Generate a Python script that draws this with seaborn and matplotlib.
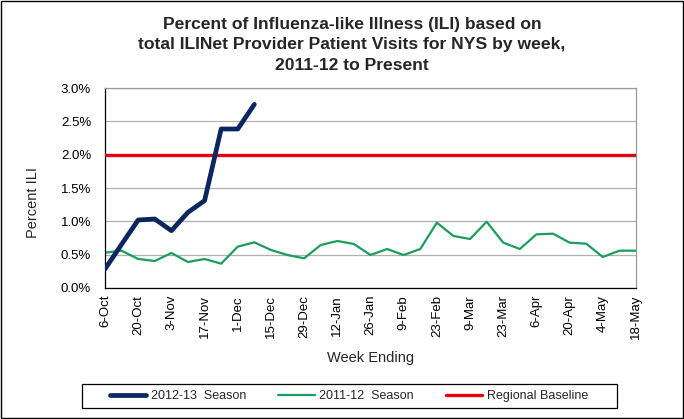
import pandas as pd
import seaborn as sns
import matplotlib.pyplot as plt
from matplotlib.patches import Rectangle
from matplotlib.ticker import FuncFormatter

week_labels = ['6-Oct', '13-Oct', '20-Oct', '27-Oct', '3-Nov', '10-Nov', '17-Nov', '24-Nov',
               '1-Dec', '8-Dec', '15-Dec', '22-Dec', '29-Dec', '5-Jan', '12-Jan', '19-Jan',
               '26-Jan', '2-Feb', '9-Feb', '16-Feb', '23-Feb', '2-Mar', '9-Mar', '16-Mar',
               '23-Mar', '30-Mar', '6-Apr', '13-Apr', '20-Apr', '27-Apr', '4-May', '11-May',
               '18-May']
season_2012 = [0.285, 0.655, 1.02, 1.035, 0.86, 1.135, 1.31, 2.385, 2.385, 2.755]
season_2011 = [0.53, 0.56, 0.435, 0.405, 0.525, 0.39, 0.435, 0.365, 0.62, 0.685,
               0.57, 0.495, 0.445, 0.645, 0.705, 0.66, 0.495, 0.585, 0.495, 0.585,
               0.98, 0.78, 0.735, 0.995, 0.68, 0.585, 0.805, 0.815, 0.68, 0.665,
               0.465, 0.56, 0.56]
baseline = [2.0] * len(week_labels)

weeks = list(range(len(week_labels)))

sns.set_style('white')
plt.rcParams['font.family'] = ['Liberation Sans', 'DejaVu Sans']

W, H = 684, 419
fig = plt.figure(figsize=(W / 100, H / 100), dpi=100)
ax = fig.add_axes([105 / W, 1 - 288 / H, 531 / W, 200 / H])

sns.lineplot(x=weeks, y=season_2011, color='#1a9e5c', linewidth=1.6, ax=ax,
             label='2011-12  Season', zorder=2)
sns.lineplot(x=weeks, y=baseline, color='#e3000f', linewidth=2.4, ax=ax,
             label='Regional Baseline', zorder=3)
sns.lineplot(x=weeks[:len(season_2012)], y=season_2012, color='#0c2660', linewidth=3.4,
             ax=ax, label='2012-13  Season', zorder=4)

ax.set_xlim(0, 32)
ax.set_ylim(0, 3.0)
ax.set_yticks([0, 0.5, 1.0, 1.5, 2.0, 2.5, 3.0])
ax.yaxis.set_major_formatter(FuncFormatter(lambda v, p: f'{v:.1f}%'))
ax.set_xticks(weeks[::2])
ax.set_xticklabels(week_labels[::2], rotation=90)
ax.grid(axis='y', color='#b0b0b0', linewidth=0.9)
ax.set_axisbelow(True)
ax.tick_params(axis='both', labelsize=9.5, length=4, width=0.8, direction='out', colors='black')
ax.tick_params(axis='y', pad=6)
ax.tick_params(axis='x', pad=1)

for side in ['top', 'right']:
    ax.spines[side].set_color('#999999')
    ax.spines[side].set_linewidth(0.9)
for side in ['left', 'bottom']:
    ax.spines[side].set_color('black')
    ax.spines[side].set_linewidth(0.9)

ax.set_xlabel('Week Ending', fontsize=10.5)
ax.set_ylabel('Percent ILI', fontsize=10.5)
ax.xaxis.set_label_coords(0.5, (288 - 351) / 200)
ax.yaxis.set_label_coords((40 - 105) / 531, (288 - 203) / 200)

ax.get_legend().remove()
handles, labels = ax.get_legend_handles_labels()
order = [2, 0, 1]
leg = fig.legend([handles[i] for i in order], [labels[i] for i in order],
                 loc='center', bbox_to_anchor=(349 / W, 1 - 396 / H), ncol=3,
                 fontsize=9, frameon=False,
                 handlelength=2.9, handletextpad=0.35, columnspacing=2.6)
fig.patches.append(Rectangle((82 / W, 1 - 408 / H), 535 / W, 24 / H, transform=fig.transFigure,
                             fill=False, edgecolor='black', linewidth=0.9))

title_lines = ['Percent of Influenza-like Illness (ILI) based on',
               'total ILINet Provider Patient Visits for NYS by week,',
               '2011-12 to Present']
for line, base in zip(title_lines, [29, 49.5, 70]):
    fig.text(352 / W, 1 - base / H, line, ha='center', va='baseline',
             fontsize=12.6, fontweight='bold')

fig.patches.append(Rectangle((0.001, 0.002), 0.997, 0.996, transform=fig.transFigure,
                             fill=False, edgecolor='black', linewidth=1))

fig.savefig('out.png', dpi=100)
